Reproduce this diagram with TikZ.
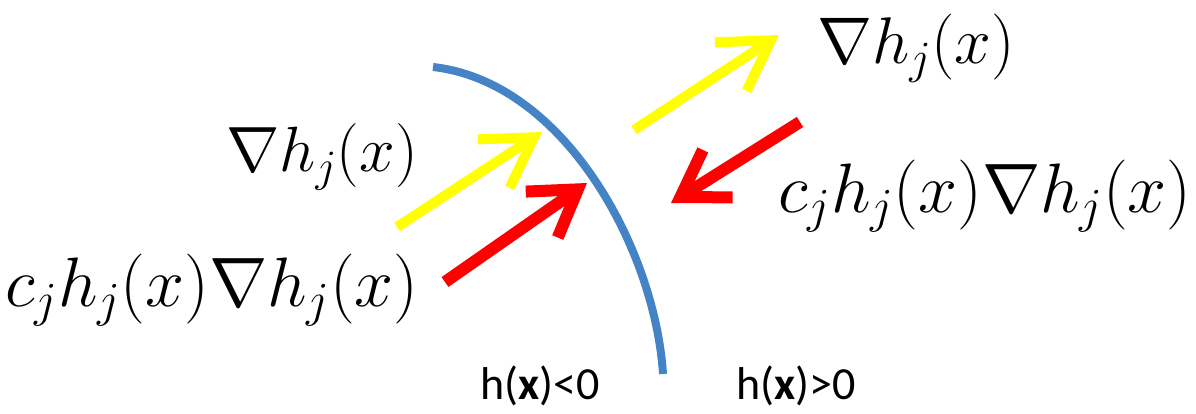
\RequirePackage{fix-cm}
\documentclass[tikz,border=0pt]{standalone}
\usepackage{fontspec}
\newfontfamily\labelfont{Carlito}
\usetikzlibrary{arrows.meta}
\definecolor{curveblue}{RGB}{68,132,198}
\definecolor{arrowyellow}{RGB}{255,255,0}
\definecolor{arrowred}{RGB}{255,0,0}
\tikzset{
  bigmath/.style={font=\fontsize{64}{72}\selectfont, inner sep=0pt},
  longmath/.style={font=\fontsize{70}{78}\selectfont, inner sep=0pt},
  sidelabel/.style={font=\labelfont\fontsize{46}{52}\selectfont, inner sep=0pt},
  yarrow/.style={draw=arrowyellow, line width=10pt, -{Straight Barb[length=48pt,width=58pt]}},
  rarrow/.style={draw=arrowred, line width=12pt, -{Straight Barb[length=44pt,width=56pt]}},
}
\begin{document}
\begin{tikzpicture}[x=1pt,y=-1pt]
\useasboundingbox (0,0) rectangle (1196,414);
% boundary curve
\coordinate (ctop) at (433,67);
\coordinate (cbot) at (663,374);
\draw[curveblue, line width=8pt] (ctop) .. controls (565,82) and (655,250) .. (cbot);
% labels
\node[bigmath] (gl) at (322,157) {$\nabla h_j(x)$};
\node[longmath] (cl) at (212,290) {$c_jh_j(x)\nabla h_j(x)$};
\node[bigmath, font=\fontsize{66}{74}\selectfont] (gr) at (916,48) {$\nabla h_j(x)$};
\node[longmath] (cr) at (985,196) {$c_jh_j(x)\nabla h_j(x)$};
\node[sidelabel] (neg) at (540,386) {h(\textbf{x})<0};
\node[sidelabel] (pos) at (796,386) {h(\textbf{x})>0};
% arrows
\coordinate (y1s) at (397,227);
\coordinate (y1e) at (542,132);
\coordinate (r1s) at (445,282);
\coordinate (r1e) at (587,183);
\coordinate (y2s) at (634,130);
\coordinate (y2e) at (779,35);
\coordinate (r2s) at (800,122);
\coordinate (r2e) at (671,203);
\draw[yarrow] (y1s) -- (y1e);
\draw[rarrow] (r1s) -- (r1e);
\draw[yarrow] (y2s) -- (y2e);
\draw[rarrow] (r2s) -- (r2e);
\end{tikzpicture}
\end{document}
